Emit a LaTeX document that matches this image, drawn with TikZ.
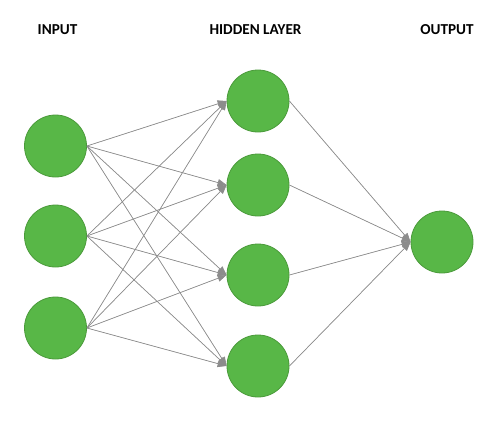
\documentclass[tikz,border=0pt]{standalone}
\usepackage{fontspec}
\setmainfont{Carlito}
\usetikzlibrary{arrows.meta}
\definecolor{nodegreen}{HTML}{58B747}
\definecolor{nodeedge}{HTML}{4A9A3A}
\definecolor{linkgray}{HTML}{8C8C8C}
\begin{document}
\begin{tikzpicture}[
  x=1pt, y=-1pt,
  neuron/.style={circle, draw=nodeedge, fill=nodegreen, minimum size=62pt, inner sep=0pt, line width=0.8pt},
  title/.style={font=\bfseries\fontsize{15.2}{17}\selectfont},
  link/.style={-{Triangle[length=9pt,width=7pt]}, draw=linkgray, fill=linkgray, line width=0.7pt}
]
\useasboundingbox (0,0) rectangle (501,424);
% layer titles
\node[title] (tin) at (57.5,30) {INPUT};
\node[title] (thid) at (255.5,30) {HIDDEN LAYER};
\node[title] (tout) at (447,30) {OUTPUT};
% neurons
\node[neuron] (in1) at (55.5,146) {};
\node[neuron] (in2) at (55.5,236) {};
\node[neuron] (in3) at (55.5,328) {};
\node[neuron] (hid1) at (258,101) {};
\node[neuron] (hid2) at (258,185) {};
\node[neuron] (hid3) at (258,275) {};
\node[neuron] (hid4) at (258,366) {};
\node[neuron] (out) at (442,242) {};
% connections
\foreach \i in {1,2,3}
  \foreach \j in {1,...,4}
    \draw[link] (in\i.east) -- (hid\j.west);
\foreach \j in {1,...,4}
  \draw[link] (hid\j.east) -- (out.west);
\end{tikzpicture}
\end{document}
